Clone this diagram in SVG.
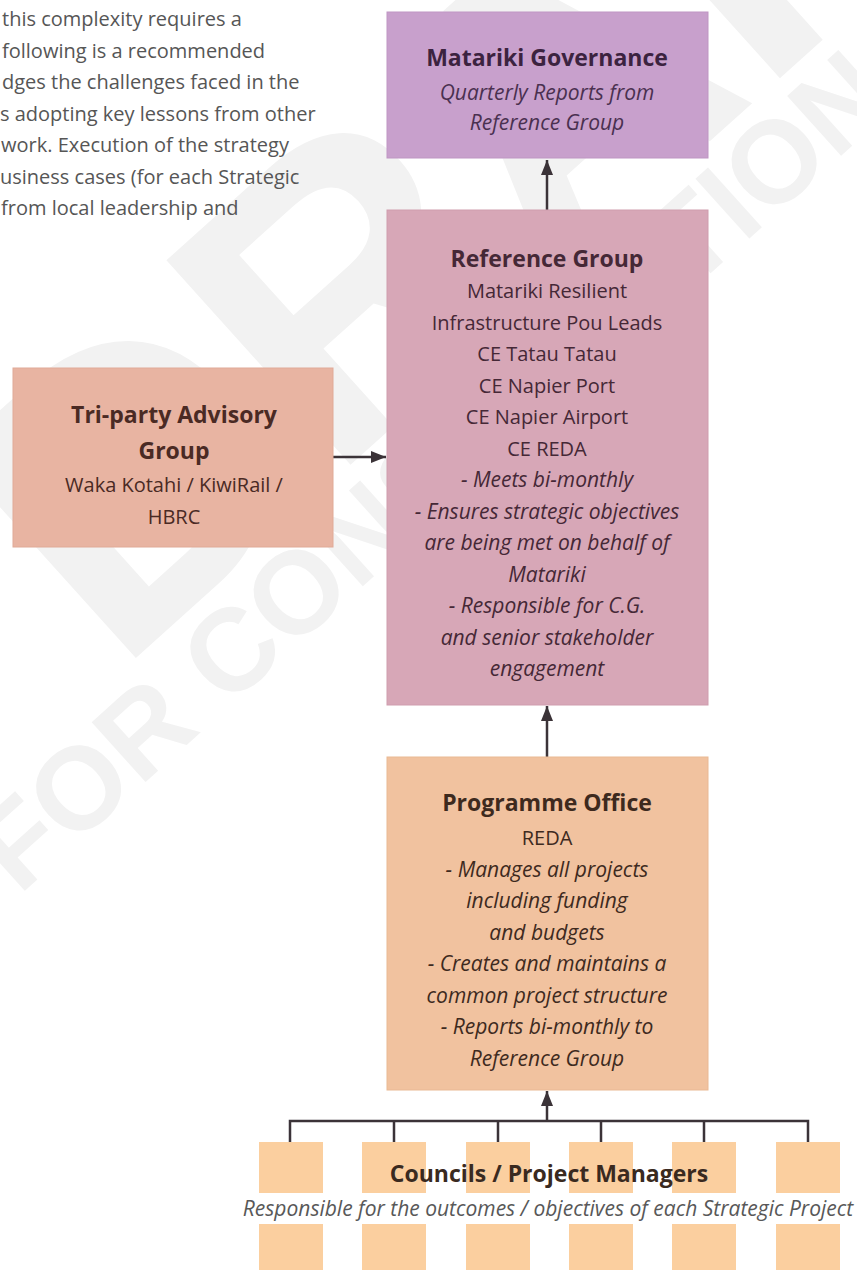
<svg xmlns="http://www.w3.org/2000/svg" width="857" height="1271" viewBox="0 0 857 1271">
<defs>
<style>
.wm{font-family:"Liberation Sans",Arial,sans-serif;font-weight:bold;fill:#f2f2f2}
.para{font-family:"Open Sans","Liberation Sans",sans-serif;font-size:20px;fill:#565656}
.t{font-family:"Open Sans","Liberation Sans",sans-serif;text-anchor:middle}
.b{font-size:23px;font-weight:bold}
.r{font-size:20px}
.i{font-size:21px;font-style:italic}
.box{stroke-width:1}
.conn{stroke:#3b3338;stroke-width:2.5;fill:none}
.small{fill:#fbcf9f}
</style>
<marker id="ah" markerUnits="userSpaceOnUse" markerWidth="16" markerHeight="14" refX="15" refY="7" orient="auto">
<path d="M0,1 L15,7 L0,13 z" fill="#3b3338"/>
</marker>
</defs>
<rect width="857" height="1271" fill="#ffffff"/>

<g id="watermark">
<text class="wm" font-size="117" transform="translate(19,896) rotate(-42)">FOR CONSULTATION</text>
<text class="wm" font-size="400" transform="translate(116,676) rotate(-42)">DRAFT</text>
</g>

<g id="paragraph" class="para">
<text x="2" y="26">this complexity requires a</text>
<text x="2" y="57.5">following is a recommended</text>
<text x="2" y="89">dges the challenges faced in the</text>
<text x="0" y="120.5">s adopting key lessons from other</text>
<text x="1" y="152">work. Execution of the strategy</text>
<text x="0" y="183.5">usiness cases (for each Strategic</text>
<text x="1" y="215">from local leadership and</text>
</g>

<g id="connectors">
<line class="conn" x1="547" y1="210" x2="547" y2="160" marker-end="url(#ah)"/>
<line class="conn" x1="333" y1="457" x2="386" y2="457" marker-end="url(#ah)"/>
<line class="conn" x1="547" y1="757" x2="547" y2="706" marker-end="url(#ah)"/>
<line class="conn" x1="547" y1="1121" x2="547" y2="1091" marker-end="url(#ah)"/>
<path class="conn" d="M290,1142 V1121 H808 V1142 M394,1121 V1142 M498,1121 V1142 M601,1121 V1142 M704,1121 V1142"/>
</g>

<g id="governance">
<rect x="387" y="12" width="321" height="146" fill="#c8a0cc" stroke="#bf96c3" class="box"/>
<text class="t b" x="547" y="66" fill="#3c2340">Matariki Governance</text>
<text class="t i" x="547" y="100" fill="#4a3050">Quarterly Reports from</text>
<text class="t i" x="547" y="130" fill="#4a3050">Reference Group</text>
</g>

<g id="reference-group" fill="#452836">
<rect x="387" y="210" width="321" height="495" fill="#d7a7b7" stroke="#cf9dae" class="box"/>
<text class="t b" x="547" y="266.5">Reference Group</text>
<text class="t r" x="547" y="298">Matariki Resilient</text>
<text class="t r" x="547" y="329.5">Infrastructure Pou Leads</text>
<text class="t r" x="547" y="361">CE Tatau Tatau</text>
<text class="t r" x="547" y="392.5">CE Napier Port</text>
<text class="t r" x="547" y="424">CE Napier Airport</text>
<text class="t r" x="547" y="455.5">CE REDA</text>
<text class="t i" x="547" y="487">- Meets bi-monthly</text>
<text class="t i" x="547" y="518.5">- Ensures strategic objectives</text>
<text class="t i" x="547" y="550">are being met on behalf of</text>
<text class="t i" x="547" y="581.5">Matariki</text>
<text class="t i" x="547" y="613">- Responsible for C.G.</text>
<text class="t i" x="547" y="644.5">and senior stakeholder</text>
<text class="t i" x="547" y="676">engagement</text>
</g>

<g id="tri-party" fill="#4a2a24">
<rect x="13" y="368" width="320" height="179" fill="#e8b4a2" stroke="#e0aa97" class="box"/>
<text class="t b" x="174" y="423">Tri-party Advisory</text>
<text class="t b" x="174" y="459">Group</text>
<text class="t r" x="174" y="492">Waka Kotahi / KiwiRail /</text>
<text class="t r" x="174" y="524">HBRC</text>
</g>

<g id="programme-office" fill="#3e2a1e">
<rect x="387" y="757" width="321" height="333" fill="#f1c29f" stroke="#e9b994" class="box"/>
<text class="t b" x="547" y="811">Programme Office</text>
<text class="t r" x="547" y="845">REDA</text>
<text class="t i" x="547" y="876.5">- Manages all projects</text>
<text class="t i" x="547" y="908">including funding</text>
<text class="t i" x="547" y="939.5">and budgets</text>
<text class="t i" x="547" y="971">- Creates and maintains a</text>
<text class="t i" x="547" y="1002.5">common project structure</text>
<text class="t i" x="547" y="1034">- Reports bi-monthly to</text>
<text class="t i" x="547" y="1065.5">Reference Group</text>
</g>

<g id="councils">
<rect class="small" x="259" y="1142" width="64" height="51"/>
<rect class="small" x="362" y="1142" width="64" height="51"/>
<rect class="small" x="466" y="1142" width="64" height="51"/>
<rect class="small" x="569" y="1142" width="64" height="51"/>
<rect class="small" x="672" y="1142" width="64" height="51"/>
<rect class="small" x="776" y="1142" width="64" height="51"/>
<rect class="small" x="259" y="1224" width="64" height="46"/>
<rect class="small" x="362" y="1224" width="64" height="46"/>
<rect class="small" x="466" y="1224" width="64" height="46"/>
<rect class="small" x="569" y="1224" width="64" height="46"/>
<rect class="small" x="672" y="1224" width="64" height="46"/>
<rect class="small" x="776" y="1224" width="64" height="46"/>
<text class="t b" x="549" y="1181.5" fill="#3a2a1f">Councils / Project Managers</text>
<text class="t i" x="548" y="1216" fill="#585858">Responsible for the outcomes / objectives of each Strategic Project</text>
</g>
</svg>
